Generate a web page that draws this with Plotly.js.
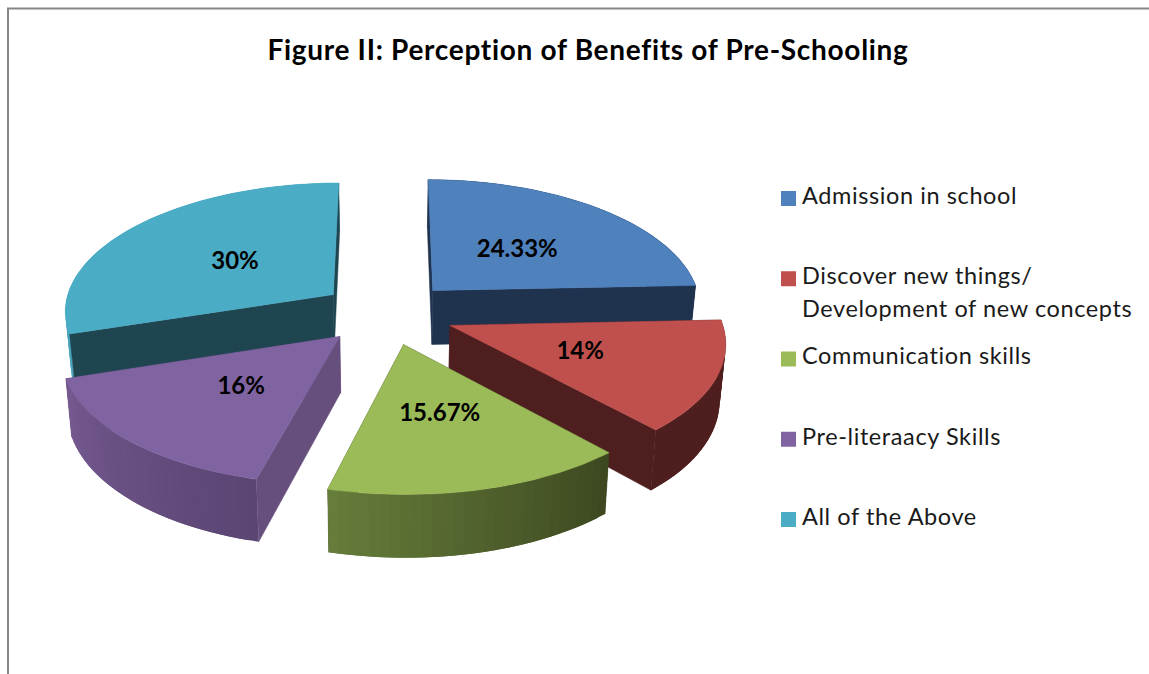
<!DOCTYPE html>
<html>
<head>
<meta charset="utf-8">
<script src="https://cdn.plot.ly/plotly-3.0.1.min.js"></script>
<style>
html,body{margin:0;padding:0;background:#fff}
#chart{width:1149px;height:674px}
#chart text{font-variant-ligatures:none}
#chart .gtitle{letter-spacing:0.7px}
#chart .scatterlayer .trace:last-child text{letter-spacing:0.6px}
</style>
</head>
<body>
<div id="chart"></div>
<script>
// Survey shares, in percent, in clockwise order from twelve o'clock
const categories = ["Admission in school", "Discover new things/ Development of new concepts", "Communication skills", "Pre-literaacy Skills", "All of the Above"];
const shares = [24.33, 14, 15.67, 16, 30];
const shareLabels = ["24.33%", "14%", "15.67%", "16%", "30%"];
const legendLines = [["Admission in school"], ["Discover new things/", "Development of new concepts"], ["Communication skills"], ["Pre-literaacy Skills"], ["All of the Above"]];

// Slice colours: top face, cut faces, outer rim at its clockwise start and end
const topColors = ["#4f81bd", "#c0504d", "#9bbb59", "#8064a2", "#4bacc6"];
const cutColors = ["#1f334f", "#4e1f1e", "#3f4a20", "#674f7d", "#1f4550"];
const rimStart = ["#1f334f", "#4e1f1e", "#3c4720", "#5a4572", "#4aa5bf"];
const rimEnd = ["#1f334f", "#4e1f1e", "#667d3a", "#75598f", "#4aa5bf"];

// Back slices are painted first so nearer ones overlap them
const paintOrder = [4, 0, 3, 1, 2];

// Tilted-disc projection, in plot units
const view = {
  cx: 387, cy: 313, rx: 270, ry: 127, depth: 55, bottomShrink: 0.982,
  perspectiveX: 0.115, perspectiveY: 0.105, explode: 0.25,
  labelRadius: [0.49, 0.5, 0.5, 0.49, 0.48], labelDrop: 2
};
const rad = d => d * Math.PI / 180;

function project(X, Y, lower) {
  const sx = 1 / (1 - view.perspectiveX * Y);
  const sy = 1 / (1 - view.perspectiveY * Y);
  const shrink = lower ? view.bottomShrink : 1;
  return [
    view.cx + X * view.rx * sx * shrink,
    view.cy + Y * view.ry * sy + (lower ? view.depth * sy : 0)
  ];
}
function hexMix(a, b, t) {
  const p = h => [1, 3, 5].map(i => parseInt(h.substr(i, 2), 16));
  const A = p(a), B = p(b);
  return "rgb(" + A.map((v, i) => Math.round(v + (B[i] - v) * t)).join(",") + ")";
}
function polygon(points, color, width) {
  return {
    type: "scatter", mode: "lines", fill: "toself", fillcolor: color,
    x: points.map(p => p[0]), y: points.map(p => p[1]),
    line: {color: color, width: width}, hoverinfo: "skip", showlegend: false
  };
}

// Angular extent of each slice, derived from its share
const total = shares.reduce((a, b) => a + b, 0);
let running = 0;
const spans = shares.map(v => {
  const from = running / total * 360;
  running += v;
  return [from, running / total * 360];
});

const traces = [];
const labelX = [], labelY = [];
spans.forEach(([from, to], i) => {
  const mid = (from + to) / 2;
  const ox = view.explode * Math.sin(rad(mid));
  const oy = -view.explode * Math.cos(rad(mid));
  const rimPoint = (a, lower) => project(ox + Math.sin(rad(a)), oy - Math.cos(rad(a)), lower);
  const apex = lower => project(ox, oy, lower);
  const f = view.labelRadius[i];
  const lp = project(ox + f * Math.sin(rad(mid)), oy - f * Math.cos(rad(mid)), false);
  labelX[i] = lp[0]; labelY[i] = lp[1] + view.labelDrop;

  // A cut face shows only when extruding downward leaves the slice outline
  const faces = a => {
    const A = apex(false), E = rimPoint(a, false), M = rimPoint(mid, false);
    const inward = (E[0] - A[0]) * (M[1] - A[1]) - (E[1] - A[1]) * (M[0] - A[0]);
    return (E[0] - A[0]) * inward < 0;
  };
  const cutFace = a => polygon([apex(false), rimPoint(a, false), rimPoint(a, true), apex(true), apex(false)], cutColors[i], 0.5);

  spans[i].draw = () => {
    [from, to].filter(a => !faces(a)).forEach(a => traces.push(cutFace(a)));
    // outer rim, shaded in overlapping strips so no seams show
    const strips = Math.ceil((to - from) / 2);
    for (let k = 0; k < strips; k++) {
      const a0 = from + (to - from) * k / strips;
      const a1 = from + (to - from) * Math.min(k + 2, strips) / strips;
      const col = hexMix(rimStart[i], rimEnd[i], (k + 0.5) / strips);
      traces.push(polygon([rimPoint(a0, false), rimPoint(a1, false), rimPoint(a1, true), rimPoint(a0, true), rimPoint(a0, false)], col, 0));
    }
    [from, to].filter(faces).forEach(a => traces.push(cutFace(a)));
    // top face
    const face = [apex(false)];
    const steps = Math.ceil(to - from);
    for (let k = 0; k <= steps; k++) face.push(rimPoint(from + (to - from) * k / steps, false));
    face.push(apex(false));
    traces.push(polygon(face, topColors[i], 0.5));
  };
});
paintOrder.forEach(i => spans[i].draw());

// Percent labels on the top faces
traces.push({
  type: "scatter", mode: "text", x: labelX, y: labelY, text: shareLabels,
  textposition: "middle center",
  textfont: {family: "Lato, sans-serif", size: 24, color: "#000", weight: 700},
  hoverinfo: "skip", showlegend: false
});

// Legend column: square keys, then the text lines beside them
const legendX = 788.5, legendTextX = 802, legendTop = 198, legendStep = 80.25, legendLine = 32.5;
const legendY = categories.map((c, i) => legendTop + i * legendStep);
traces.push({
  type: "scatter", mode: "markers", x: categories.map(() => legendX), y: legendY.map(v => v + 0.5),
  marker: {symbol: "square", size: 15, color: topColors, line: {width: 0}},
  hoverinfo: "skip", showlegend: false
});
const legendTextXs = [], legendTextYs = [], legendTexts = [];
legendLines.forEach((lines, i) => lines.forEach((t, j) => {
  legendTextXs.push(legendTextX);
  legendTextYs.push(legendY[i] + j * legendLine);
  legendTexts.push(t);
}));
traces.push({
  type: "scatter", mode: "text", x: legendTextXs, y: legendTextYs, text: legendTexts,
  textposition: "middle right",
  textfont: {family: "Lato, sans-serif", size: 23.5, color: "#1a1a1a"},
  hoverinfo: "skip", showlegend: false
});

const frame = {color: "#868686", width: 2};
const layout = {
  width: 1149, height: 674, margin: {l: 0, r: 0, t: 0, b: 0},
  paper_bgcolor: "#fff", plot_bgcolor: "#fff", showlegend: false,
  title: {
    text: "<b>Figure II: Perception of Benefits of Pre-Schooling</b>",
    x: 588 / 1149, xanchor: "center", xref: "paper", y: 1 - 50 / 674, yanchor: "middle", yref: "paper",
    font: {family: "Lato, sans-serif", size: 28, color: "#000"}
  },
  xaxis: {range: [0, 1149], visible: false, fixedrange: true},
  yaxis: {range: [674, 0], visible: false, fixedrange: true},
  shapes: [
    {type: "line", xref: "paper", yref: "paper", x0: 8 / 1149, x1: 8 / 1149, y0: 0, y1: 1 - 8 / 674, line: frame},
    {type: "line", xref: "paper", yref: "paper", x0: 7 / 1149, x1: 1, y0: 1 - 8.5 / 674, y1: 1 - 8.5 / 674, line: frame}
  ]
};
Plotly.newPlot("chart", traces, layout, {displayModeBar: false, responsive: false});
</script>
</body>
</html>
